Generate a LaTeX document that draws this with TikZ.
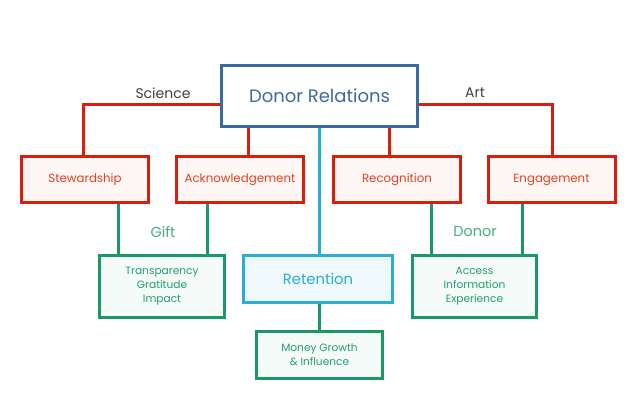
\documentclass[tikz,border=0pt]{standalone}
\usepackage{fontspec}
\setmainfont{Poppins}
\usetikzlibrary{calc}
\definecolor{drblue}{HTML}{3D6A9E}
\definecolor{rred}{HTML}{D91E0B}
\definecolor{rtext}{HTML}{E2421F}
\definecolor{rfill}{HTML}{FEF7F5}
\definecolor{ccyan}{HTML}{2BAED3}
\definecolor{cfill}{HTML}{EFF9FC}
\definecolor{ggreen}{HTML}{1A9966}
\definecolor{gtext}{HTML}{22A06A}
\definecolor{gfill}{HTML}{F5FBF8}
\definecolor{glabel}{HTML}{45AD7E}
\definecolor{dlabel}{HTML}{404040}
\tikzset{
  x=1pt, y=-1pt,
  base/.style={draw, line width=3pt, inner sep=0pt, align=center},
  topbox/.style={base, draw=drblue, fill=white, text=drblue, minimum width=196pt, minimum height=61pt, font=\fontsize{18}{21}\selectfont},
  redbox/.style={base, draw=rred, fill=rfill, text=rtext, minimum width=127pt, minimum height=46pt, font=\fontsize{11.8}{14}\selectfont},
  cyanbox/.style={base, draw=ccyan, fill=cfill, text=ccyan, minimum width=149pt, minimum height=47pt, font=\fontsize{14.8}{17}\selectfont},
  greenbox/.style={base, draw=ggreen, fill=gfill, text=gtext, font=\fontsize{10.6}{14}\selectfont},
  redline/.style={draw=rred, line width=3pt},
  greenline/.style={draw=ggreen, line width=3pt},
  cyanline/.style={draw=ccyan, line width=3pt},
  darklabel/.style={text=dlabel, font=\fontsize{14}{16}\selectfont},
  greenlabel/.style={text=glabel, font=\fontsize{14.5}{16}\selectfont},
}
\begin{document}
\begin{tikzpicture}
\useasboundingbox (0,0) rectangle (640,413);
\node[topbox] (dr) at (319.5,96) {Donor Relations};
\node[redbox] (stew) at (85,179.5) {Stewardship};
\node[redbox] (ack) at (240,179.5) {Acknowledgement};
\node[redbox] (rec) at (397,179.5) {Recognition};
\node[redbox] (eng) at (551.5,179.5) {Engagement};
\node[cyanbox] (ret) at (318,279) {Retention};
\node[greenbox, minimum width=125pt, minimum height=62pt] (trans) at (162,286.5) {Transparency\\Gratitude\\Impact};
\node[greenbox, minimum width=124pt, minimum height=62pt] (acc) at (474.5,286.5) {Access\\Information\\Experience};
\node[greenbox, minimum width=126pt, minimum height=47pt] (money) at (319.5,355) {Money Growth\\\& Influence};

\coordinate (sciL) at ($(dr.west)+(0,8)$);
\coordinate (artR) at ($(dr.east)+(0,8)$);
\path[redline] (sciL) -| (stew.north -| 83,0);
\path[redline] (artR) -| (eng.north -| 552,0);
\path[redline] (dr.south -| 248,0) -- (ack.north -| 248,0);
\path[redline] (dr.south -| 389,0) -- (rec.north -| 389,0);
\path[cyanline] (dr.south -| 319,0) -- (ret.north -| 319,0);
\path[greenline] (ret.south -| 319,0) -- (money.north -| 319,0);
\path[greenline] (stew.south -| 118,0) -- (trans.north -| 118,0);
\path[greenline] (ack.south -| 207,0) -- (trans.north -| 207,0);
\path[greenline] (rec.south -| 431,0) -- (acc.north -| 431,0);
\path[greenline] (eng.south -| 522,0) -- (acc.north -| 522,0);

\node[darklabel] (sci) at (163,93) {Science};
\node[darklabel] (art) at (475,93) {Art};
\node[greenlabel] (gift) at (163,232) {Gift};
\node[greenlabel] (donor) at (475,232) {Donor};
\end{tikzpicture}
\end{document}
